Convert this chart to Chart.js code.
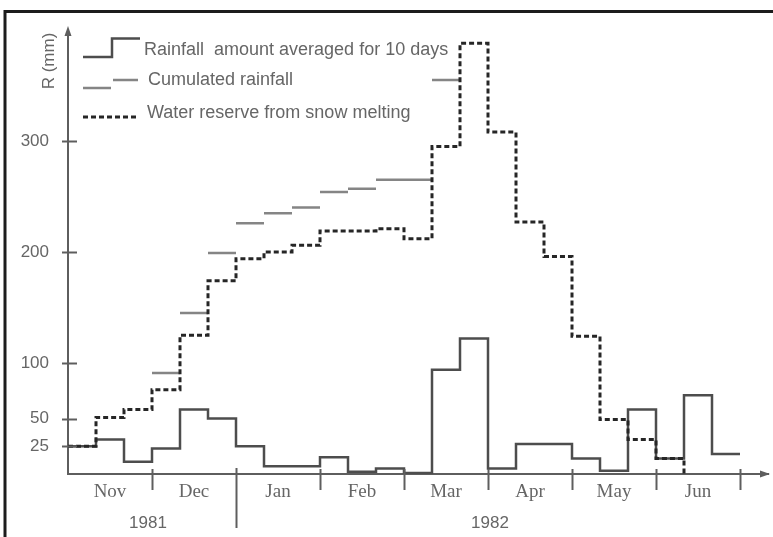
<!DOCTYPE html>
<html>
<head>
<meta charset="utf-8">
<script src="https://cdn.jsdelivr.net/npm/chart.js@4/dist/chart.umd.min.js"></script>
<style>
  html, body { margin: 0; padding: 0; background: #ffffff; }
  #wrap { width: 773px; height: 537px; position: relative; }
</style>
</head>
<body>
<div id="wrap"><canvas id="c" width="773" height="537"></canvas></div>
<script>
// Months of the 1981/82 season, each split into three 10-day periods
const months = ['Nov', 'Dec', 'Jan', 'Feb', 'Mar', 'Apr', 'May', 'Jun'];
const years = ['1981', '1982'];
const yTickValues = [25, 50, 100, 200, 300];

// Rainfall amount averaged for 10 days (mm), one value per decade, Nov 1 .. Jun 30
const rainfall = [25, 31, 11, 23, 58, 50, 25, 7, 7, 15, 2, 5, 1, 94, 122, 5, 27, 27, 14, 3, 58, 14, 71, 18];

// Cumulated rainfall (mm) per decade; null where no segment is drawn
const cumulated = [null, null, null, 91, 145, 199, 226, 235, 240, 254, 257, 265, 265, 355,
                   null, null, null, null, null, null, null, null, null, null];

// Water reserve from snow melting (mm) per decade, down to zero in June
const snowReserve = [25, 51, 58, 76, 125, 174, 194, 200, 206, 219, 219, 221, 212, 295, 388, 308, 227, 196, 124, 49, 31, 14, 0];

const seriesLabels = ['Rainfall  amount averaged for 10 days', 'Cumulated rainfall', 'Water reserve from snow melting'];

const axisColor = '#5e5e5e';
const textColor = '#666666';
const rainColor = '#4d4d4d';
const cumColor = '#858585';
const snowColor = '#262626';
const sansFont = "'Liberation Sans', Arial, sans-serif";
const serifFont = "'Liberation Serif', 'Times New Roman', serif";

// step series: each value holds from its decade start to the next one
const rainPts = rainfall.map((v, i) => ({ x: i, y: v }));
rainPts.push({ x: rainfall.length, y: rainfall[rainfall.length - 1] });

const snowPts = snowReserve.map((v, i) => ({ x: i, y: v }));

// cumulated rainfall: separate horizontal pieces, one per decade
const cumPts = [];
cumulated.forEach((v, i) => {
  if (v === null) return;
  cumPts.push({ x: i, y: v }, { x: i + 1, y: v }, { x: i + 1, y: null });
});

const monthCenters = months.map((m, i) => i * 3 + 1.5);
const monthBounds = months.map((m, i) => (i + 1) * 3);

const overlay = {
  id: 'overlay',
  afterDraw(chart) {
    const { ctx, chartArea: a, scales: { x, y } } = chart;
    ctx.save();

    // outer frame (top and left edges)
    ctx.strokeStyle = '#1c1c1c';
    ctx.lineWidth = 3;
    ctx.beginPath();
    ctx.moveTo(5, 537);
    ctx.lineTo(5, 11.5);
    ctx.lineTo(773, 11.5);
    ctx.stroke();

    // arrow heads
    ctx.fillStyle = axisColor;
    ctx.beginPath();
    ctx.moveTo(a.left, a.top - 4);
    ctx.lineTo(a.left - 3.5, a.top + 6);
    ctx.lineTo(a.left + 3.5, a.top + 6);
    ctx.closePath();
    ctx.fill();
    ctx.beginPath();
    ctx.moveTo(a.right + 2, a.bottom);
    ctx.lineTo(a.right - 8, a.bottom - 3.5);
    ctx.lineTo(a.right - 8, a.bottom + 3.5);
    ctx.closePath();
    ctx.fill();

    // y tick marks crossing the axis
    ctx.strokeStyle = axisColor;
    ctx.lineWidth = 2;
    yTickValues.forEach(v => {
      const py = Math.round(y.getPixelForValue(v)) + 0.5;
      ctx.beginPath();
      ctx.moveTo(a.left - 6, py);
      ctx.lineTo(a.left + 9, py);
      ctx.stroke();
    });

    // month boundary ticks; the Dec/Jan one separates the years
    monthBounds.forEach((b, i) => {
      const px = Math.round(x.getPixelForValue(b)) + 0.5;
      ctx.beginPath();
      if (i === 1) {
        ctx.moveTo(px, a.bottom - 6);
        ctx.lineTo(px, a.bottom + 54);
      } else {
        ctx.moveTo(px, a.bottom - 5);
        ctx.lineTo(px, a.bottom + 16);
      }
      ctx.stroke();
    });

    // year labels
    ctx.fillStyle = textColor;
    ctx.font = '17px ' + sansFont;
    ctx.textAlign = 'center';
    ctx.textBaseline = 'alphabetic';
    ctx.fillText(years[0], x.getPixelForValue(3) - 4, 528);
    ctx.fillText(years[1], x.getPixelForValue(15) + 2, 528);

    // y axis title
    ctx.save();
    ctx.translate(54, 61);
    ctx.rotate(-Math.PI / 2);
    ctx.textAlign = 'center';
    ctx.fillText('R (mm)', 0, 0);
    ctx.restore();

    // legend
    ctx.font = '18px ' + sansFont;
    ctx.textAlign = 'left';
    ctx.lineWidth = 2.5;
    ctx.strokeStyle = rainColor;
    ctx.beginPath();
    ctx.moveTo(83, 57); ctx.lineTo(112, 57); ctx.lineTo(112, 38.5); ctx.lineTo(140, 38.5);
    ctx.stroke();
    ctx.fillText(chart.data.datasets[0].label, 144, 55);

    ctx.strokeStyle = cumColor;
    ctx.beginPath();
    ctx.moveTo(83, 88); ctx.lineTo(111, 88);
    ctx.moveTo(113, 80); ctx.lineTo(138, 80);
    ctx.stroke();
    ctx.fillText(chart.data.datasets[1].label, 148, 85);

    ctx.strokeStyle = snowColor;
    ctx.lineWidth = 3;
    ctx.setLineDash([5, 3]);
    ctx.beginPath();
    ctx.moveTo(83, 117); ctx.lineTo(138, 117);
    ctx.stroke();
    ctx.setLineDash([]);
    ctx.fillText(chart.data.datasets[2].label, 147, 118);

    ctx.restore();
  }
};

new Chart(document.getElementById('c'), {
  type: 'line',
  data: {
    datasets: [
      {
        label: seriesLabels[0],
        data: rainPts,
        stepped: 'before',
        borderColor: rainColor,
        borderWidth: 2.5,
        pointRadius: 0,
        fill: false,
        order: 3
      },
      {
        label: seriesLabels[1],
        data: cumPts,
        spanGaps: false,
        borderColor: cumColor,
        borderWidth: 2.5,
        pointRadius: 0,
        fill: false,
        order: 2
      },
      {
        label: seriesLabels[2],
        data: snowPts,
        stepped: 'before',
        borderColor: snowColor,
        borderWidth: 3,
        borderDash: [5, 3],
        pointRadius: 0,
        fill: false,
        order: 1
      }
    ]
  },
  options: {
    responsive: false,
    animation: false,
    devicePixelRatio: 1,
    layout: { padding: { left: 0, top: 30, right: 5, bottom: 0 } },
    plugins: { legend: { display: false }, tooltip: { enabled: false } },
    scales: {
      x: {
        type: 'linear',
        min: 0,
        max: 25,
        afterBuildTicks: s => { s.ticks = monthCenters.map(v => ({ value: v })); },
        afterFit: s => { s.height = 63; },
        grid: { display: false, drawTicks: false },
        border: { display: true, color: axisColor, width: 2 },
        ticks: {
          autoSkip: false,
          maxRotation: 0,
          padding: 7,
          color: textColor,
          font: { family: serifFont, size: 19 },
          callback: (v, i) => months[i]
        }
      },
      y: {
        type: 'linear',
        min: 0,
        max: 400,
        afterBuildTicks: s => { s.ticks = yTickValues.map(v => ({ value: v })); },
        afterFit: s => { s.width = 68; },
        grid: { display: false, drawTicks: false },
        border: { display: true, color: axisColor, width: 2 },
        ticks: {
          padding: 19,
          color: textColor,
          font: { family: sansFont, size: 17 },
          callback: v => String(v)
        }
      }
    }
  },
  plugins: [overlay]
});
</script>
</body>
</html>
